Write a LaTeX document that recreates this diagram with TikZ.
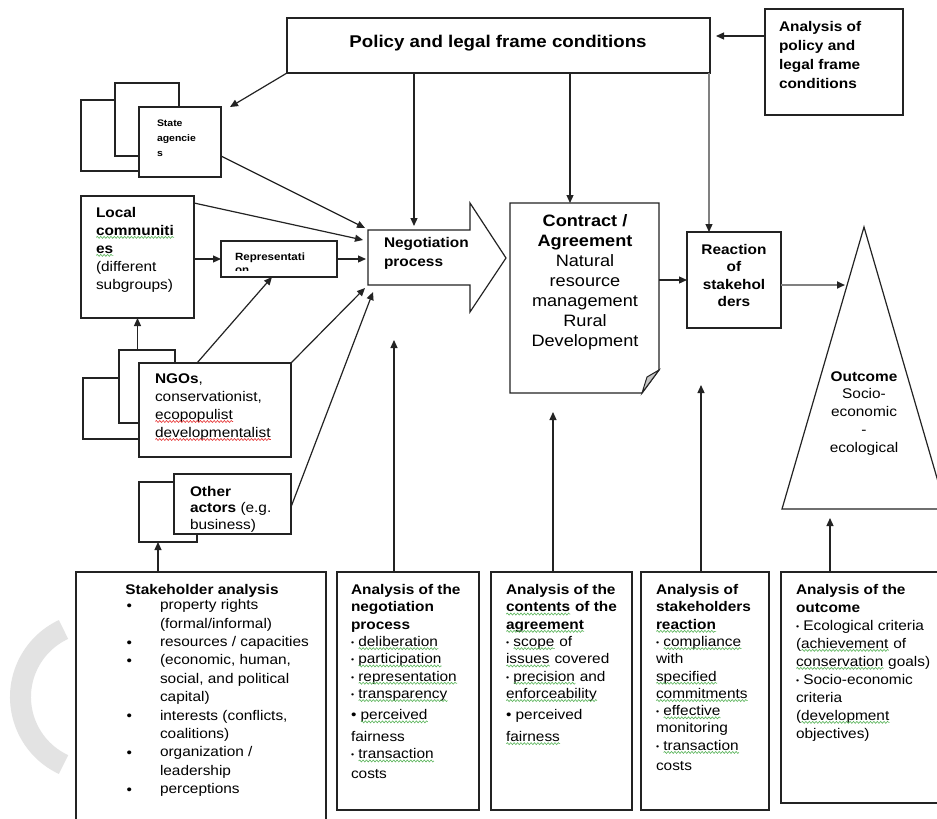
\documentclass[tikz,border=0pt]{standalone}
\usepackage{fontspec}
\setmainfont{Liberation Sans}[FakeStretch=1.1]
\usetikzlibrary{arrows.meta,decorations.pathmorphing}
\definecolor{lc}{RGB}{35,35,35}
\definecolor{spg}{RGB}{90,180,90}
\definecolor{spr}{RGB}{230,50,50}
\newsavebox\sqbox
\newcommand\squig[2]{\sbox\sqbox{#2}\leavevmode\rlap{\usebox\sqbox}\raisebox{-3.5pt}[0pt][0pt]{\tikz\draw[#1,line width=.6pt,decorate,decoration={snake,amplitude=1pt,segment length=3.4pt}] (0pt,0pt) -- (\the\wd\sqbox,0pt);}}
\newcommand\grsq[1]{\squig{spg}{#1}}
\newcommand\redsq[1]{\squig{spr}{#1}}
\newcommand\fsz[2]{\fontsize{#1}{#2}\selectfont}
\newcommand\sbul{{\fontsize{8}{8}\selectfont\raisebox{1pt}{•}}\ }
\newcommand\bbul{\raisebox{-1.5pt}{•}}
\begin{document}
\begin{tikzpicture}[x=1pt,y=-1pt,
  bx/.style={draw=lc,line width=1.3pt,fill=white,inner sep=0pt,outer sep=0pt,anchor=north west},
  conn/.style={draw=lc,line width=1.2pt},
  arr/.style={conn,-{Triangle[length=8pt,width=7pt,color=lc]}},
  txt/.style={inner sep=0pt,outer sep=0pt,anchor=north west,align=left,text=black,execute at begin node=\strut},
  txc/.style={txt,anchor=north,align=center}]
\useasboundingbox (0,0) rectangle (937,819);
\fill[white] (0,0) rectangle (937,819);
\clip (0,0) rectangle (937,819);
% watermark arc
\draw[gray!22,line width=21pt] (95,697) ++(115:74.5) arc[start angle=115,end angle=245,radius=74.5];

% top boxes
\node[bx,minimum width=423pt,minimum height=55pt] (pol) at (287,18) {};
\node[font=\fsz{17}{20}\bfseries,inner sep=0pt] (poltxt) at (498,43) {Policy and legal frame conditions};
\node[bx,minimum width=138pt,minimum height=106pt] (apol) at (765,9) {};
\node[txt,font=\fsz{14}{19}\bfseries] (apoltxt) at (779,21) {Analysis of\\policy and\\legal frame\\conditions};

% state agencies stack
\node[bx,minimum width=69pt,minimum height=71pt] (sa1) at (81,100) {};
\node[bx,minimum width=64pt,minimum height=73pt] (sa2) at (115,83) {};
\node[bx,minimum width=82pt,minimum height=70pt] (sa3) at (139,107) {};
\node[txt,font=\fsz{9.5}{15}\bfseries] (satxt) at (157,119.5) {State\\agencie\\s};

% local communities and representation
\node[bx,minimum width=113pt,minimum height=122pt] (loc) at (81,196) {};
\node[txt,font=\fsz{14}{18}] (loctxt) at (96,207) {\textbf{Local}\\\textbf{\grsq{communiti}}\\\textbf{\grsq{es}}\\(different\\subgroups)};
\node[bx,minimum width=116pt,minimum height=36pt] (rep) at (221,241) {};
\begin{scope}
\clip (221,241) rectangle (337,270);
\node[txt,font=\fsz{10.5}{13}\bfseries] (reptxt) at (235,252.4) {Representati\\on};
\end{scope}

% NGO stack
\node[bx,minimum width=67pt,minimum height=61pt] (ngo1) at (83,378) {};
\node[bx,minimum width=56pt,minimum height=73pt] (ngo2) at (119,350) {};
\node[bx,minimum width=152pt,minimum height=94pt] (ngo3) at (139,363) {};
\node[txt,font=\fsz{14}{18}] (ngotxt) at (155,373.5) {\textbf{NGOs},\\conservationist,\\\redsq{ecopopulist}\\\redsq{developmentalist}};

% other actors stack
\node[bx,minimum width=58pt,minimum height=60pt] (oth1) at (139,482) {};
\node[bx,minimum width=117pt,minimum height=60pt] (oth2) at (174,474) {};
\node[txt,font=\fsz{14}{16.5}] (othtxt) at (190,486) {\textbf{Other}\\\textbf{actors} (e.g.\\business)};

% negotiation process arrow
\node[minimum width=102pt,minimum height=55pt,inner sep=0pt,outer sep=0pt,anchor=north west] (neg) at (368,230) {};
\draw[lc,line width=1.2pt,fill=white] (neg.north west) -- (neg.north east) -- (470,203) -- (506,258) -- (470,312) -- (neg.south east) -- (neg.south west) -- cycle;
\node[txt,font=\fsz{14}{19}\bfseries] (negtxt) at (384,237.2) {Negotiation\\process};

% contract / agreement
\node[minimum width=149pt,minimum height=190pt,inner sep=0pt,outer sep=0pt,anchor=north west] (con) at (510,203) {};
\draw[lc,line width=1.3pt,fill=white] (con.north west) -- (con.north east) -- (659,370) -- (642,393) -- (con.south west) -- cycle;
\filldraw[draw=lc,line width=1pt,fill=gray!45] (659,370) -- (647,377) -- (642,393) -- cycle;
\node[txc,font=\fsz{16.5}{20}] (contxt) at (585,214.5) {\textbf{Contract /}\\\textbf{Agreement}\\Natural\\resource\\management\\Rural\\Development};

% reaction of stakeholders
\node[bx,minimum width=94pt,minimum height=96pt] (rea) at (687,232) {};
\node[txc,font=\fsz{14}{17.5}\bfseries] (reatxt) at (734,244.3) {Reaction\\of\\stakehol\\ders};

% outcome triangle
\coordinate (tria) at (864,227);
\coordinate (tril) at (782,509);
\coordinate (trir) at (946,509);
\coordinate (trin) at (845,285);
\draw[lc,line width=1.2pt,fill=white] (tria) -- (tril) -- (trir) -- cycle;
\node[txc,font=\fsz{14}{17.7}] (outtxt) at (864,371.5) {\textbf{Outcome}\\Socio-\\economic\\-\\ecological};

% bottom analysis boxes
\node[bx,minimum width=250pt,minimum height=270pt] (sta) at (76,572) {};
\node[inner sep=0pt,anchor=base,font=\fsz{14}{18}\bfseries] (statit) at (202,594) {Stakeholder analysis};
\node[txt,font=\fsz{14}{18.4}] (stabul) at (126.5,604) {\bbul\\\strut\\\bbul\\\bbul\\\strut\\\strut\\\bbul\\\strut\\\bbul\\\strut\\\bbul};
\node[txt,font=\fsz{14}{18.4}] (staitems) at (160,599.6) {property rights\\(formal/informal)\\resources / capacities\\(economic, human,\\social, and political\\capital)\\interests (conflicts,\\coalitions)\\organization /\\leadership\\perceptions};

\node[bx,minimum width=142pt,minimum height=238pt] (ana1) at (337,572) {};
\node[txt,font=\fsz{14}{17.3}] (ana1txt) at (351,584.4) {\textbf{Analysis of the}\\\textbf{negotiation}\\\textbf{process}\\\sbul\grsq{deliberation}\\\sbul\grsq{participation}\\\sbul\grsq{representation}\\\sbul\grsq{transparency}\\[4pt]• \grsq{perceived}\\[4.5pt]fairness\\\sbul\grsq{transaction}\\[2.5pt]costs};

\node[bx,minimum width=141pt,minimum height=238pt] (ana2) at (491,572) {};
\node[txt,font=\fsz{14}{17.3}] (ana2txt) at (506,584.4) {\textbf{Analysis of the}\\\textbf{\grsq{contents} of the}\\\textbf{\grsq{agreement}}\\\sbul\grsq{scope} of\\\grsq{issues} covered\\\sbul\grsq{precision} and\\\grsq{enforceability}\\[4pt]• perceived\\[4.5pt]\grsq{fairness}};

\node[bx,minimum width=128pt,minimum height=238pt] (ana3) at (641,572) {};
\node[txt,font=\fsz{14}{17.3}] (ana3txt) at (656,584.4) {\textbf{Analysis of}\\\textbf{stakeholders}\\\textbf{\grsq{reaction}}\\\sbul\grsq{compliance}\\with\\\grsq{specified}\\\grsq{commitments}\\\sbul\grsq{effective}\\monitoring\\\sbul\grsq{transaction}\\[2.5pt]costs};

\node[bx,minimum width=170pt,minimum height=231pt] (ana4) at (781,572) {};
\node[txt,font=\fsz{14}{18}] (ana4txt) at (796,584) {\textbf{Analysis of the}\\\textbf{outcome}\\\sbul Ecological criteria\\(\grsq{achievement} of\\\grsq{conservation} goals)\\\sbul Socio-economic\\criteria\\(\grsq{development}\\objectives)};

% connectors
\coordinate (apin) at ([yshift=-27pt]apol.north west);
\draw[arr,shorten >=6pt] (apin) -- (apin -| pol.east);
\draw[arr] (pol.south west) -- ([xshift=9pt]sa3.north east);
\coordinate (negtop) at ([xshift=-5pt,yshift=4pt]neg.north);
\draw[arr] (pol.south -| negtop) -- (negtop);
\coordinate (contop) at ([xshift=-14.5pt]con.north);
\draw[arr] (pol.south -| contop) -- (contop);
\coordinate (reatop) at ([xshift=-25pt]rea.north);
\draw[arr,draw=gray] (pol.south -| reatop) -- (reatop);
\draw[arr] ([yshift=21pt]sa3.south east) -- ([xshift=-3pt,yshift=2pt]neg.north west);
\draw[arr] ([yshift=-7pt]loc.north east) -- ([xshift=-5pt,yshift=-10pt]neg.north west);
\draw[arr] (loc.east |- rep.west) -- (rep.west);
\draw[arr,shorten >=2pt] (rep.east) -- (rep.east -| neg.west);
\draw[arr] (loc.south |- ngo2.north) -- (loc.south);
\draw[arr] ([xshift=58pt]ngo3.north west) -- ([xshift=-7pt]rep.south);
\draw[arr] (ngo3.north east) -- ([xshift=-3pt,yshift=-3pt]neg.south west);
\draw[arr] ([yshift=-3pt]oth2.east) -- ([xshift=5pt,yshift=-7pt]neg.south west);
\coordinate (othbot) at ([xshift=-10pt]oth1.south);
\draw[arr] (othbot |- sta.north) -- (othbot);
\coordinate (a1tip) at (394,340);
\draw[arr] (a1tip |- ana1.north) -- (a1tip);
\coordinate (a2tip) at (553,412);
\draw[arr] (a2tip |- ana2.north) -- (a2tip);
\coordinate (a3tip) at (701,385);
\draw[arr] (a3tip |- ana3.north) -- (a3tip);
\coordinate (a4tip) at (830,518);
\draw[arr] (a4tip |- ana4.north) -- (a4tip);
\draw[arr] (rea.west -| con.east) -- (rea.west);
\draw[arr,draw=gray,line width=2pt] ([yshift=-5pt]rea.east) -- (trin);
\end{tikzpicture}
\end{document}
